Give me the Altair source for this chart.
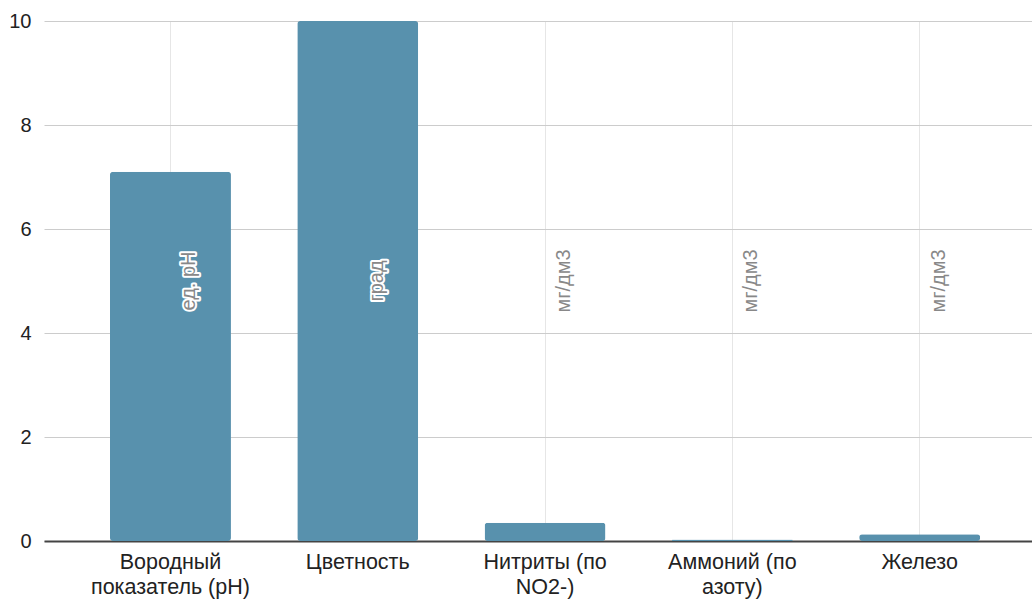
import altair as alt
import pandas as pd

# Water quality indicators
categories = [
    "Вородный\nпоказатель (pH)",
    "Цветность",
    "Нитриты (по\nNO2-)",
    "Аммоний (по\nазоту)",
    "Железо",
]
values = [7.1, 10.0, 0.35, 0.03, 0.13]
units = ["ед. pH", "град", "мг/дм3", "мг/дм3", "мг/дм3"]
y_ticks = [0, 2, 4, 6, 8, 10]

df = pd.DataFrame({"category": categories, "value": values, "unit": units})

FONT = "Arial, Liberation Sans, sans-serif"
BAR = "#5891ad"

x_enc = alt.X(
    "category:N",
    sort=categories,
    title=None,
    scale=alt.Scale(paddingInner=0.354, paddingOuter=0.3145, align=0.56),
    axis=alt.Axis(
        labelAngle=0,
        labelExpr="split(datum.label, '\\n')",
        labelFont=FONT,
        labelFontSize=21.5,
        labelColor="#222222",
        labelLineHeight=25,
        labelPadding=10,
        labelBaseline="top",
        ticks=False,
        domain=True,
        domainColor="#444444",
        domainWidth=2,
        grid=True,
        gridColor="#e6e6e6",
        gridWidth=1,
    ),
)

y_scale = alt.Scale(domain=[0, 10], nice=False)

bars = alt.Chart(df).mark_bar(
    color=BAR, cornerRadius=3
).encode(
    x=x_enc,
    y=alt.Y(
        "value:Q",
        title=None,
        scale=y_scale,
        axis=alt.Axis(
            values=y_ticks,
            labelFont=FONT,
            labelFontSize=20,
            labelColor="#222222",
            labelPadding=13,
            ticks=False,
            domain=False,
            gridColor="#cccccc",
            gridWidth=1,
        ),
    ),
)

# Unit captions, rotated, with a white halo
halo = alt.Chart(df).mark_text(
    angle=270, align="center", baseline="middle", dy=19,
    font=FONT, fontSize=20, stroke="white", strokeWidth=4,
    strokeJoin="round", fill="#888888",
).encode(
    x=alt.X("category:N", sort=categories),
    y=alt.datum(5),
    text="unit:N",
)

caption = alt.Chart(df).mark_text(
    angle=270, align="center", baseline="middle", dy=19,
    font=FONT, fontSize=20, fill="#888888",
).encode(
    x=alt.X("category:N", sort=categories),
    y=alt.datum(5),
    text="unit:N",
)

chart = alt.layer(bars, halo, caption).properties(
    width=988,
    height=520,
    padding={"left": 44, "top": 21, "right": 0, "bottom": 58},
    autosize=alt.AutoSizeParams(type="none"),
    background="white",
).configure_view(stroke=None)

chart.save("out.html", embed_options={"renderer": "svg", "actions": False})
